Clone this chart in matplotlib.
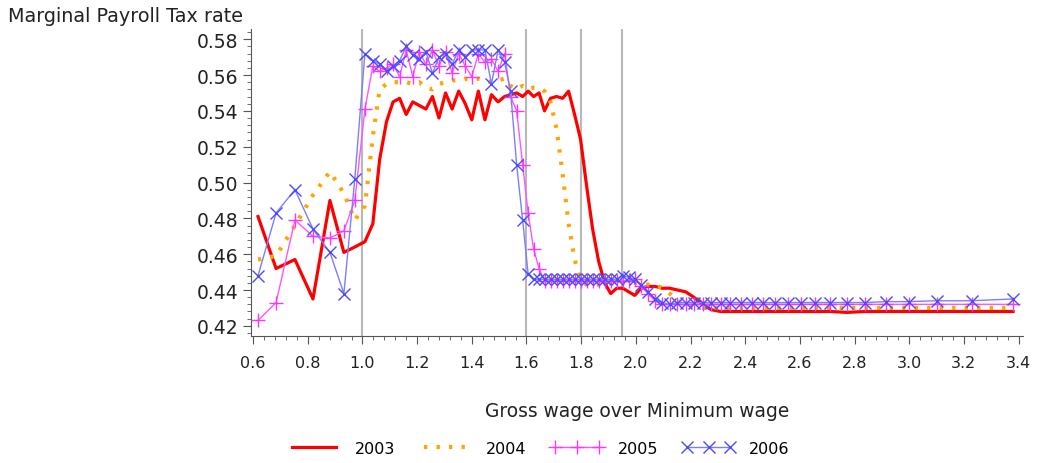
import numpy as np
import matplotlib.pyplot as plt
from matplotlib.ticker import MultipleLocator
from matplotlib.lines import Line2D

plt.rcParams['font.family'] = ['DejaVu Sans']

# wage bins (gross wage / minimum wage)
wage = [0.618, 0.684, 0.753, 0.819, 0.881, 0.932, 0.972, 1.009, 1.038, 1.063,
        1.088, 1.112, 1.136, 1.160, 1.184, 1.208, 1.232, 1.256, 1.280, 1.304,
        1.328, 1.352, 1.376, 1.400, 1.424, 1.448, 1.472, 1.496, 1.520, 1.542,
        1.564, 1.586, 1.606, 1.626, 1.646, 1.666, 1.688, 1.710, 1.732, 1.754,
        1.776, 1.798, 1.820, 1.842, 1.864, 1.886, 1.908, 1.930, 1.952, 1.974,
        1.996, 2.020, 2.044, 2.070, 2.096, 2.124, 2.152, 2.182, 2.212, 2.244,
        2.276, 2.310, 2.346, 2.384, 2.424, 2.466, 2.510, 2.556, 2.604, 2.656,
        2.712, 2.772, 2.840, 2.914, 2.998, 3.100, 3.230, 3.380]

rate_2003 = [0.481, 0.452, 0.457, 0.435, 0.490, 0.461, 0.464, 0.467, 0.477, 0.513,
             0.534, 0.545, 0.547, 0.538, 0.545, 0.543, 0.541, 0.548, 0.536, 0.550,
             0.541, 0.551, 0.544, 0.535, 0.551, 0.535, 0.549, 0.545, 0.548, 0.549,
             0.550, 0.548, 0.551, 0.548, 0.550, 0.540, 0.547, 0.548, 0.547, 0.551,
             0.538, 0.524, 0.498, 0.474, 0.456, 0.444, 0.438, 0.441, 0.441, 0.439,
             0.437, 0.441, 0.442, 0.442, 0.441, 0.441, 0.440, 0.439, 0.436, 0.432,
             0.429, 0.428, 0.428, 0.428, 0.428, 0.428, 0.428, 0.428, 0.428, 0.428,
             0.428, 0.4275, 0.428, 0.428, 0.428, 0.428, 0.428, 0.428]

rate_2004 = [0.457, 0.459, 0.476, 0.493, 0.506, 0.494, 0.479, 0.487, 0.526, 0.552,
             0.555, 0.556, 0.556, 0.556, 0.555, 0.556, 0.553, 0.552, 0.555, 0.556,
             0.557, 0.557, 0.558, 0.557, 0.558, 0.557, 0.556, 0.557, 0.558, 0.554,
             0.552, 0.554, 0.552, 0.553, 0.553, 0.551, 0.545, 0.530, 0.505, 0.477,
             0.457, 0.446, 0.443, 0.443, 0.443, 0.443, 0.444, 0.444, 0.444, 0.444,
             0.444, 0.443, 0.443, 0.443, 0.441, 0.438, 0.434, 0.432, 0.431, 0.430,
             0.430, 0.430, 0.430, 0.430, 0.430, 0.430, 0.430, 0.430, 0.430, 0.430,
             0.430, 0.430, 0.430, 0.430, 0.430, 0.430, 0.430, 0.430]

rate_2005 = [0.423, 0.433, 0.479, 0.470, 0.469, 0.473, 0.490, 0.541, 0.565, 0.562,
             0.564, 0.566, 0.559, 0.574, 0.559, 0.573, 0.566, 0.574, 0.565, 0.573,
             0.561, 0.572, 0.565, 0.559, 0.572, 0.567, 0.569, 0.562, 0.572, 0.548,
             0.540, 0.510, 0.483, 0.463, 0.452, 0.445, 0.445, 0.445, 0.445, 0.445,
             0.445, 0.445, 0.445, 0.445, 0.445, 0.445, 0.445, 0.445, 0.445, 0.445,
             0.446, 0.442, 0.438, 0.434, 0.432, 0.432, 0.432, 0.432, 0.432, 0.432,
             0.432, 0.432, 0.432, 0.432, 0.432, 0.432, 0.432, 0.432, 0.432, 0.432,
             0.432, 0.432, 0.432, 0.432, 0.432, 0.432, 0.432, 0.432]

rate_2006 = [0.448, 0.483, 0.496, 0.474, 0.461, 0.438, 0.502, 0.572, 0.568, 0.566,
             0.562, 0.565, 0.568, 0.576, 0.571, 0.569, 0.573, 0.561, 0.570, 0.572,
             0.566, 0.574, 0.570, 0.574, 0.574, 0.574, 0.555, 0.574, 0.567, 0.551,
             0.510, 0.479, 0.449, 0.446, 0.446, 0.446, 0.446, 0.446, 0.446, 0.446,
             0.446, 0.446, 0.446, 0.446, 0.446, 0.446, 0.446, 0.446, 0.448, 0.447,
             0.446, 0.443, 0.439, 0.435, 0.433, 0.432, 0.433, 0.433, 0.433, 0.433,
             0.433, 0.433, 0.433, 0.433, 0.433, 0.433, 0.433, 0.433, 0.433, 0.433,
             0.433, 0.433, 0.433, 0.4335, 0.4335, 0.434, 0.434, 0.435]

cutoffs = [1.0, 1.6, 1.8, 1.95]

dots = (0, (0.8, 2.2))

fig = plt.figure(figsize=(10.38, 4.64), dpi=100)
ax = fig.add_axes([0.242, 0.274, 0.744, 0.661])

for c in cutoffs:
    ax.axvline(c, color='#b8b8b8', lw=1.5, zorder=1)

ax.plot(wage, rate_2003, color='#ff0000', lw=2.3, zorder=3)
ax.plot(wage, rate_2004, color='#ffa500', lw=3, linestyle=dots, zorder=3)
ax.plot(wage, rate_2005, color='#ff55ff', lw=1, marker='+', ms=10, mew=1,
        mec='#ff33ff', zorder=4)
ax.plot(wage, rate_2006, color='#7d7dff', lw=1, marker='x', ms=8, mew=1,
        mec='#4b4bff', zorder=5)

ax.set_xlim(0.593, 3.418)
ax.set_ylim(0.4144, 0.5856)
ax.xaxis.set_major_locator(MultipleLocator(0.2))
ax.xaxis.set_minor_locator(MultipleLocator(0.04))
ax.yaxis.set_major_locator(MultipleLocator(0.02))
ax.yaxis.set_minor_locator(MultipleLocator(0.004))
ax.xaxis.set_major_formatter(lambda v, p: f'{v:.1f}')
ax.yaxis.set_major_formatter(lambda v, p: f'{v:.2f}')

for side in ['top', 'right']:
    ax.spines[side].set_visible(False)
for side in ['left', 'bottom']:
    ax.spines[side].set_color('#555555')
ax.tick_params(which='major', length=6, color='#555555', labelsize=13.5,
               labelcolor='#222222')
ax.tick_params(which='minor', length=3, color='#555555')
ax.tick_params(axis='x', labelsize=11.5, pad=8)

fig.text(0.008, 0.985, 'Marginal Payroll Tax rate', fontsize=13.8,
         color='#222222', ha='left', va='top')
ax.set_xlabel('Gross wage over Minimum wage', fontsize=13.4, color='#222222',
              labelpad=22)

handles = [
    Line2D([], [], color='#ff0000', lw=2.3),
    Line2D([], [], color='#ffa500', lw=3, linestyle=dots),
    Line2D([], [], color='#ff55ff', lw=1, marker='+', ms=10, mec='#ff33ff'),
    Line2D([], [], color='#7d7dff', lw=1, marker='x', ms=8, mec='#4b4bff'),
]
fig.legend(handles, ['2003', '2004', '2005', '2006'], loc='lower center',
           bbox_to_anchor=(0.519, -0.015), ncol=4, frameon=False, fontsize=11.5,
           handlelength=3.3, columnspacing=1.5, numpoints=3, handletextpad=0.9)

fig.savefig('out.png', dpi=100)
